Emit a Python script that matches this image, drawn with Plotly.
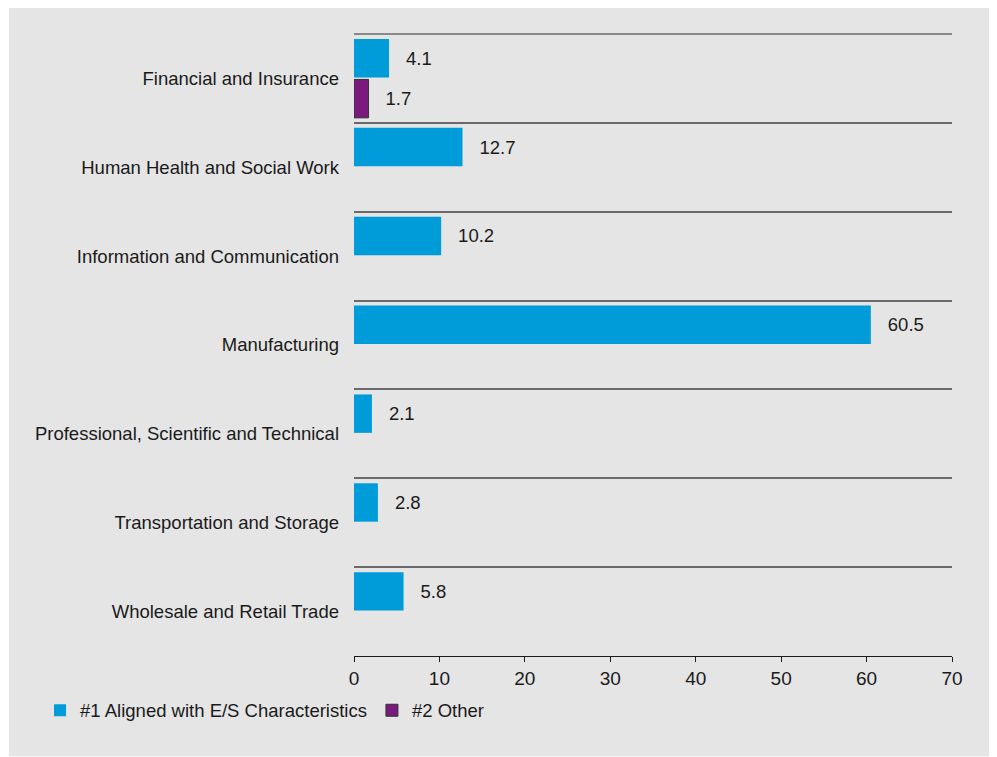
import plotly.graph_objects as go

# sector breakdown, % of investments
categories = [
    "Financial and Insurance",
    "Human Health and Social Work",
    "Information and Communication",
    "Manufacturing",
    "Professional, Scientific and Technical",
    "Transportation and Storage",
    "Wholesale and Retail Trade",
]
aligned = [4.1, 12.7, 10.2, 60.5, 2.1, 2.8, 5.8]
other = [1.7, None, None, None, None, None, None]

BLUE = "#009cd9"
PURPLE = "#7a1a7c"
PANEL = "#e5e5e5"
GRID = "#6a6a6a"
FONT = "Liberation Sans, Arial, Helvetica, sans-serif"
NARROW = "Liberation Sans Narrow, Arial Narrow, Liberation Sans, sans-serif"
SIZE = 18.5

pad = "\u00a0\u00a0\u2009"


def labels(vals):
    return [pad + f"{v:.1f}" if v is not None else "" for v in vals]


fig = go.Figure()
fig.add_trace(go.Bar(
    y=categories, x=aligned, orientation="h",
    name="#1 Aligned with E/S Characteristics",
    marker=dict(color=BLUE, line=dict(width=0)),
    text=labels(aligned), textposition="outside", constraintext="none",
    cliponaxis=False,
    outsidetextfont=dict(family=FONT, size=SIZE, color="#1a1a1a"),
))
fig.add_trace(go.Bar(
    y=categories, x=other, orientation="h",
    name="#2 Other",
    marker=dict(color=PURPLE, line=dict(color="#333333", width=1)),
    text=labels(other), textposition="outside", constraintext="none",
    cliponaxis=False,
    outsidetextfont=dict(family=FONT, size=SIZE, color="#1a1a1a"),
))

# page body adds an 8px offset, margins compensate for it
fig.update_layout(
    width=997, height=757,
    margin=dict(l=346, r=53, t=26, b=109),
    paper_bgcolor="white",
    plot_bgcolor=PANEL,
    barmode="group",
    bargap=0.09,
    bargroupgap=0.05,
    font=dict(family=FONT, size=SIZE, color="#1a1a1a"),
    showlegend=True,
    legend=dict(
        orientation="h", x=-0.525, xanchor="left", y=-0.088, yanchor="middle",
        bgcolor="rgba(0,0,0,0)", font=dict(family=FONT, size=SIZE),
        itemwidth=30, traceorder="normal",
    ),
    shapes=[
        dict(type="rect", xref="paper", yref="paper",
             x0=-0.577, x1=1.067, y0=-0.161, y1=1.048,
             fillcolor=PANEL, line=dict(width=0), layer="below"),
        dict(type="line", xref="paper", yref="paper",
             x0=0, x1=1, y0=1, y1=1,
             line=dict(color=GRID, width=1.5), layer="below"),
    ],
)

fig.update_xaxes(
    range=[0, 70], dtick=10, showgrid=False, zeroline=False,
    showline=True, linecolor="#1a1a1a", linewidth=1,
    ticks="outside", ticklen=5, tickcolor="#1a1a1a",
    tickfont=dict(family=NARROW, size=19),
)
fig.update_yaxes(
    type="category", autorange="reversed", tickson="boundaries",
    showgrid=True, gridcolor=GRID, gridwidth=1.5,
    ticks="", ticklabelstandoff=14, showline=False, zeroline=False,
)

fig.write_html("out.html")
